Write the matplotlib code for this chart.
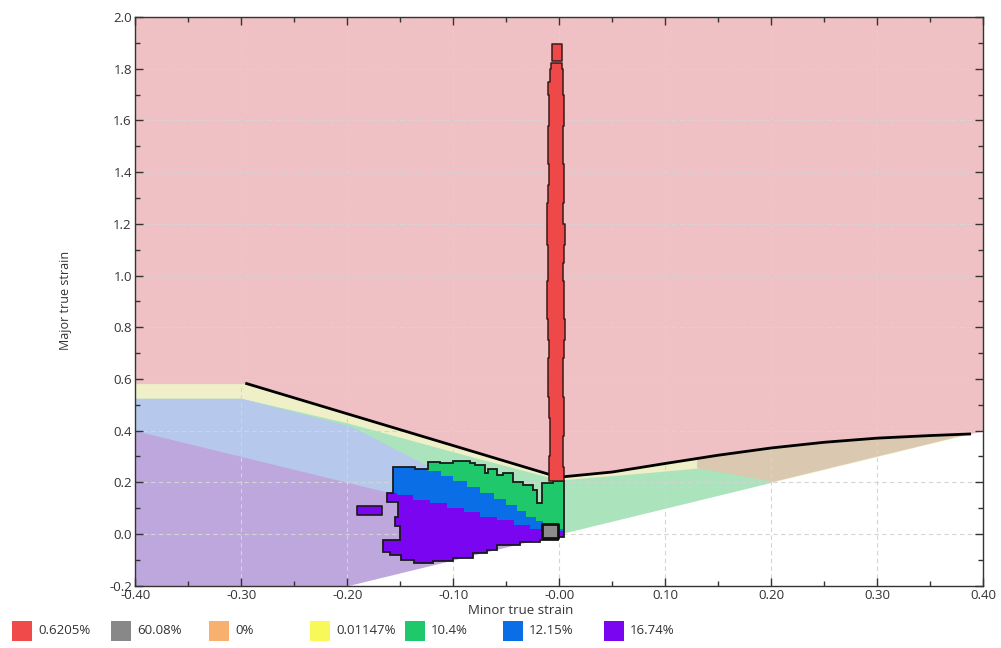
import numpy as np
import matplotlib.pyplot as plt
from matplotlib.patches import Polygon, Rectangle

plt.rcParams['font.family'] = ['Open Sans', 'DejaVu Sans']
plt.rcParams['axes.unicode_minus'] = False

# ---- zone boundaries (minor strain, major strain) ----
# forming limit curve (black line, top of the yellow zone)
flc_x = [-0.40, -0.295, -0.009, 0.0, 0.05, 0.10, 0.15, 0.20, 0.25, 0.30, 0.35, 0.387]
flc_y = [0.582, 0.582, 0.230, 0.220, 0.240, 0.273, 0.305, 0.333, 0.355, 0.371, 0.381, 0.387]
# safety curve (bottom of the yellow zone)
safe_x = [-0.40, -0.30, -0.20, -0.10, 0.0, 0.076, 0.13, 0.20]
safe_y = [0.525, 0.525, 0.430, 0.318, 0.209, 0.235, 0.255, 0.280]
# wrinkling tendency boundary (top of blue zone)
wrinkle_x = [-0.40, -0.30, -0.196, 0.0]
wrinkle_y = [0.525, 0.525, 0.416, 0.0]
# pure shear line (top of purple zone)
shear_x = [-0.40, 0.0]
shear_y = [0.40, 0.0]
# thinning zone (tan) lower-left edge
thin_x = [0.387, 0.202, 0.13, 0.13]
thin_y = [0.387, 0.202, 0.255, 0.294]
# equi-biaxial line, nothing below it
eqb_x = [-0.20, 0.40]
eqb_y = [-0.20, 0.40]

# ---- measured strain points ----
# red column near minor strain 0
col_y = [0.205, 0.26, 0.30, 0.38, 0.45, 0.53, 0.60, 0.68, 0.75, 0.83, 0.90, 0.98, 1.05, 1.12,
         1.20, 1.28, 1.35, 1.43, 1.50, 1.58, 1.65, 1.70, 1.75, 1.80, 1.823]
col_left = [-0.010, -0.0095, -0.0085, -0.009, -0.0095, -0.0105, -0.011, -0.0100, -0.0105, -0.0115,
            -0.012, -0.0110, -0.011, -0.0120, -0.0115, -0.0105, -0.0095, -0.0110, -0.011, -0.0100,
            -0.0095, -0.0105, -0.0085, -0.0080, -0.0080]
col_right = [0.004, 0.0035, 0.003, 0.004, 0.004, 0.003, 0.0035, 0.0045, 0.005, 0.004,
             0.004, 0.0035, 0.0045, 0.005, 0.003, 0.004, 0.0045, 0.0035, 0.0035, 0.0045,
             0.004, 0.0030, 0.003, 0.0025, 0.0025]
top_x = [-0.0072, 0.0023]
top_y = [1.831, 1.896]

# outline of the main point cloud
cloud_x = [-0.1566, -0.1566, -0.1361, -0.1361, -0.1236, -0.1236, -0.1125, -0.1125, -0.1000, -0.1000,
           -0.0842, -0.0842, -0.0795, -0.0795, -0.0701, -0.0701, -0.0669, -0.0669, -0.0591, -0.0591,
           -0.0528, -0.0528, -0.0434, -0.0434, -0.0340, -0.0340, -0.0245, -0.0245, -0.0213, -0.0213,
           -0.0166, -0.0166, -0.0057, -0.0057, 0.0040, 0.0040,
           -0.0015, -0.0015, -0.0180, -0.0180, -0.0370, -0.0370, -0.0590, -0.0590, -0.0685, -0.0685,
           -0.0810, -0.0810, -0.1000, -0.1000, -0.1190, -0.1190, -0.1370, -0.1370, -0.1490, -0.1490,
           -0.1600, -0.1600, -0.1660, -0.1660, -0.1500, -0.1500, -0.1550, -0.1550, -0.1520, -0.1520,
           -0.1630, -0.1630, -0.1566]
cloud_y = [0.248, 0.258, 0.258, 0.250, 0.250, 0.280, 0.280, 0.273, 0.273, 0.284,
           0.284, 0.273, 0.273, 0.267, 0.267, 0.235, 0.235, 0.251, 0.251, 0.228,
           0.228, 0.235, 0.235, 0.202, 0.202, 0.190, 0.190, 0.170, 0.170, 0.119,
           0.119, 0.196, 0.196, 0.205, 0.205, -0.012,
           -0.012, -0.023, -0.023, -0.030, -0.030, -0.043, -0.043, -0.062, -0.062, -0.075,
           -0.075, -0.094, -0.094, -0.104, -0.104, -0.113, -0.113, -0.100, -0.100, -0.081,
           -0.081, -0.068, -0.068, -0.023, -0.023, 0.030, 0.030, 0.067, 0.067, 0.125,
           0.125, 0.160, 0.160]
# blue / green boundary inside the cloud
bg_x = [-0.17, -0.124, -0.112, -0.100, -0.087, -0.075, -0.062, -0.050, -0.040, -0.031, -0.022, -0.015, -0.005, 0.005]
bg_y = [0.30, 0.245, 0.225, 0.205, 0.180, 0.157, 0.135, 0.112, 0.090, 0.067, 0.052, 0.040, 0.020, 0.0]
# purple / blue boundary inside the cloud
pb_x = [-0.17, -0.153, -0.138, -0.122, -0.106, -0.090, -0.075, -0.059, -0.043, -0.028, -0.015, 0.005]
pb_y = [0.160, 0.150, 0.131, 0.120, 0.100, 0.086, 0.067, 0.054, 0.035, 0.020, 0.010, 0.0]
# small isolated purple block and grey block
blk_x = [-0.191, -0.1675]
blk_y = [0.0735, 0.108]
grey_x = [-0.0166, -0.0015]
grey_y = [-0.015, 0.037]

legend_labels = ['0.6205%', '60.08%', '0%', '0.01147%', '10.4%', '12.15%', '16.74%']
legend_colors = ['#f04a4a', '#888888', '#f7b06e', '#f8f858', '#1fc86a', '#0a6ee6', '#7a05f0']

W, H = 1001, 648
fig = plt.figure(figsize=(W / 100, H / 100), dpi=100)
ax = fig.add_axes([0.1352, 0.0961, 0.8472, 0.8776])
ax.set_xlim(-0.4, 0.4)
ax.set_ylim(-0.2, 2.0)
ax.set_facecolor('#efc0c4')

# zones
ax.fill_between(flc_x, -0.2, flc_y, color='#efefc8', lw=0)
ax.fill_between(safe_x, -0.2, safe_y, color='#aae3bc', lw=0)
ax.fill_between(wrinkle_x, -0.2, wrinkle_y, color='#b6c9ec', lw=0)
ax.fill_between(shear_x, -0.2, shear_y, color='#bda7dd', lw=0)
tx = [x for x in flc_x if x > 0.13] + thin_x
ty = [y for x, y in zip(flc_x, flc_y) if x > 0.13] + thin_y
ax.fill(tx, ty, color='#dbc8b0', lw=0)
ax.fill_between(eqb_x, -0.2, eqb_y, color='white', lw=0)

# forming limit curve
ax.plot(flc_x[1:], flc_y[1:], color='black', lw=2, zorder=3)

# point cloud
cloud = Polygon(np.column_stack([cloud_x, cloud_y]), closed=True, fc='#1fc86a', ec='none', zorder=4)
ax.add_patch(cloud)
blue = ax.fill_between(bg_x, -0.2, bg_y, step='post', color='#0a6ee6', lw=0, zorder=4)
blue.set_clip_path(cloud)
purp = ax.fill_between(pb_x, -0.2, pb_y, step='post', color='#7a05f0', lw=0, zorder=4)
purp.set_clip_path(cloud)
ax.add_patch(Polygon(np.column_stack([cloud_x, cloud_y]), closed=True, fill=False,
                     ec='#1a1a1a', lw=1.3, zorder=5))
ax.fill_between(blk_x, blk_y[0], blk_y[1], fc='#7a05f0', ec='#1a1a1a', lw=1.2, zorder=5)
ax.fill_between(grey_x, grey_y[0], grey_y[1], fc='#8c8c8c', ec='#111111', lw=2, zorder=6)

ax.fill_betweenx(col_y, col_left, col_right, step='post', fc='#ee4848', ec='#3a1a1a', lw=1.1, zorder=5)
ax.fill_between(top_x, top_y[0], top_y[1], fc='#ee4848', ec='#3a1a1a', lw=1.1, zorder=5)

# grid and ticks
ax.set_xticks(np.arange(-0.4, 0.41, 0.1))
ax.set_xticks(np.arange(-0.4, 0.41, 0.05), minor=True)
ax.set_yticks(np.arange(-0.2, 2.01, 0.2))
ax.set_yticks(np.arange(-0.2, 2.01, 0.1), minor=True)
ax.set_xticklabels(['%.2f' % v for v in np.arange(-0.4, 0.41, 0.1)])
ax.set_yticklabels(['%.1f' % v for v in np.arange(-0.2, 2.01, 0.2)])
ax.grid(True, which='major', ls=(0, (4, 3)), color='#d4d4d4', lw=0.8, zorder=7)
ax.set_axisbelow(False)
ax.tick_params(which='both', direction='in', top=True, right=True, colors='#333333',
               labelsize=9.5, labelcolor='#333333')
ax.tick_params(which='major', length=5.5, width=1, pad=2.5)
ax.tick_params(which='minor', length=3.5, width=1)
for s in ax.spines.values():
    s.set_color('#333333')
    s.set_linewidth(1)
    s.set_zorder(8)

fig.text(65 / W, 1 - 300 / H, 'Major true strain', rotation=90, ha='center', va='center',
         fontsize=9, color='#333333')
fig.text(521 / W, 1 - 610 / H, 'Minor true strain', ha='center', va='center', fontsize=9.5,
         color='#333333')

# legend row: coloured square + label, positions in pixels
sq_left = [12, 111, 209, 310, 405, 503, 604]
for px, c, lab in zip(sq_left, legend_colors, legend_labels):
    fig.add_artist(Rectangle((px / W, 1 - 641 / H), 20 / W, 20 / H, transform=fig.transFigure,
                             fc=c, ec='none'))
    fig.text((px + 26) / W, 1 - 631 / H, lab, ha='left', va='center', fontsize=9.5,
             color='#333333')

plt.savefig('out.png', dpi=100)
